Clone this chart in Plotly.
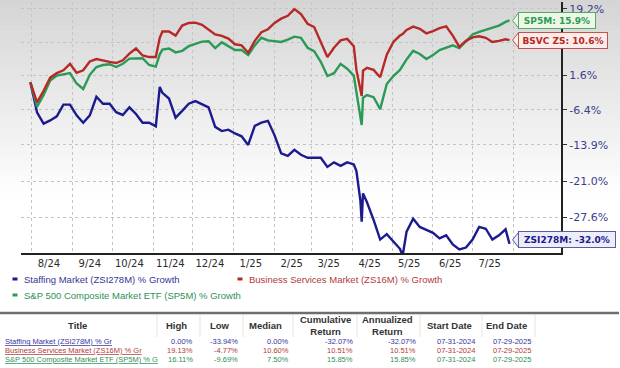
import math
import pandas as pd
import plotly.graph_objects as go

# ---------------- data ----------------
dates = ["2024-07-31","2024-08-05","2024-08-10","2024-08-15","2024-08-20","2024-08-25","2024-08-30",
"2024-09-04","2024-09-09","2024-09-14","2024-09-19","2024-09-24","2024-09-29",
"2024-10-04","2024-10-09","2024-10-14","2024-10-19","2024-10-24","2024-10-29",
"2024-11-03","2024-11-06","2024-11-08","2024-11-13","2024-11-18","2024-11-23","2024-11-28",
"2024-12-03","2024-12-08","2024-12-13","2024-12-18","2024-12-23","2024-12-28",
"2025-01-02","2025-01-07","2025-01-12","2025-01-17","2025-01-22","2025-01-27",
"2025-02-01","2025-02-06","2025-02-11","2025-02-16","2025-02-21","2025-02-26",
"2025-03-03","2025-03-08","2025-03-13","2025-03-18","2025-03-23","2025-03-28",
"2025-04-02","2025-04-04","2025-04-07","2025-04-08","2025-04-09","2025-04-12","2025-04-17","2025-04-22","2025-04-27",
"2025-05-02","2025-05-07","2025-05-09","2025-05-12","2025-05-17","2025-05-22","2025-05-27",
"2025-06-01","2025-06-06","2025-06-11","2025-06-16","2025-06-21","2025-06-26",
"2025-07-01","2025-07-06","2025-07-11","2025-07-16","2025-07-21","2025-07-26","2025-07-29"]

staffing_pct = [0.0, -6.9, -9.4, -8.7, -7.8, -5.2, -5.2,
    -7.6, -9.2, -7.6, -3.4, -5.0, -5.0,
    -6.9, -7.5, -5.8, -7.3, -9.2, -9.2,
    -10.0, -1.1, -2.5, -3.8, -8.1, -6.6, -5.0,
    -4.4, -5.1, -5.8, -10.1, -11.0, -10.7,
    -11.5, -12.1, -13.9, -9.9, -9.2, -8.8,
    -11.9, -15.6, -16.1, -14.9, -15.9, -16.5,
    -16.5, -16.5, -18.3, -17.4, -18.1, -17.4,
    -17.8, -19.1, -24.6, -28.3, -23.3, -24.9, -28.0, -31.3, -30.4,
    -31.6, -32.8, -33.9, -30.0, -27.8, -29.2, -29.7,
    -30.2, -31.1, -30.6, -32.1, -32.9, -32.6,
    -31.3, -29.2, -29.5, -31.3, -30.6, -29.6, -32.0]

business_pct = [0.0, -4.7, -2.0, 1.1, 2.2, 2.9, 4.5,
    2.3, 2.9, 5.1, 5.7, 5.3, 5.0,
    4.7, 5.4, 7.1, 8.4, 6.6, 6.2,
    6.2, 11.2, 12.9, 12.9, 11.8, 14.5, 15.2,
    15.3, 14.7, 13.5, 12.1, 11.7, 11.0,
    9.5, 9.2, 7.3, 10.4, 12.7, 13.5,
    15.2, 16.4, 17.2, 19.1, 17.7, 15.0,
    14.1, 10.2, 6.2, 8.6, 10.5, 10.9,
    9.0, 3.0, -2.0, -3.2, 2.8, 3.5, 3.0, 1.2, 6.8,
    10.1, 11.8, 12.2, 13.3, 14.2, 13.6, 12.4,
    13.0, 13.8, 14.3, 11.8, 8.8, 10.4,
    11.3, 11.6, 11.2, 10.1, 10.4, 10.8, 10.6]

sp500_pct = [0.0, -5.7, -3.0, 0.4, 1.6, 1.9, 2.2,
    -0.3, -1.6, 1.8, 3.7, 4.2, 4.4,
    3.7, 4.5, 5.8, 5.9, 5.9, 4.2,
    3.8, 6.9, 8.1, 8.4, 7.4, 7.8, 9.0,
    9.6, 10.2, 10.3, 8.5, 10.0, 9.0,
    8.0, 8.0, 6.7, 9.2, 11.2, 10.5,
    10.3, 10.1, 10.7, 11.5, 11.2, 8.6,
    7.7, 5.0, 1.5, 2.2, 4.5, 3.3,
    1.6, -2.0, -8.0, -9.7, -3.6, -3.0, -3.5, -6.2, -0.4,
    1.5, 3.0, 4.0, 5.6, 7.8, 7.0, 5.7,
    6.7, 8.0, 8.6, 9.2, 8.5, 10.4,
    12.1, 12.8, 13.3, 13.9, 14.5, 15.5, 15.9]

series_names = ["Staffing Market (ZSI278M) % Growth",
                "Business Services Market (ZS16M) % Growth",
                "S&P 500 Composite Market ETF (SP5M) % Growth"]
end_tags = ["ZSI278M", "BSVC ZS", "SP5M"]

x_tick_labels = ["8/24", "9/24", "10/24", "11/24", "12/24", "1/25",
                 "2/25", "3/25", "4/25", "5/25", "6/25", "7/25"]
y_tick_pct = [19.2, 10.0, 1.6, -6.4, -13.9, -21.0, -27.6]
y_tick_hidden = [False, True, False, False, False, False, False]

table_titles = ["Staffing Market (ZSI278M) % Gr",
                "Business Services Market (ZS16M) % Gr",
                "S&P 500 Composite Market ETF (SP5M) % G"]
table_high = ["0.00%", "19.13%", "16.11%"]
table_low = ["-33.94%", "-4.77%", "-9.69%"]
table_median = ["0.00%", "10.60%", "7.50%"]
table_cum = ["-32.07%", "10.51%", "15.85%"]
table_ann = ["-32.07%", "10.51%", "15.85%"]
table_start = ["07-31-2024", "07-31-2024", "07-31-2024"]
table_end = ["07-29-2025", "07-29-2025", "07-29-2025"]
table_headers = ["Title", "High", "Low", "Median", "Cumulative<br>Return",
                 "Annualized<br>Return", "Start Date", "End Date"]

# ---------------- styling ----------------
W, H = 620, 368
PL, PR, PT, PB = 21, 561, 2, 253
line_colors = ["#1b1b8f", "#b52a26", "#2a9a57"]
text_colors = ["#35359a", "#b23a3a", "#2f8f58"]
box_fill = ["#ededf8", "#fbecea", "#edf7e6"]
box_line = ["#5c5ca6", "#c2524e", "#55a86a"]
box_width = [92, 84, 72]

def xp(px):
    return (px - PL) / (PR - PL)

def yp(py):
    return (PB - py) / (PB - PT)

fig = go.Figure()

all_series = [staffing_pct, business_pct, sp500_pct]
# growth expressed as index level (1 + r) on a log axis
for idx in [0, 2, 1]:
    vals = all_series[idx]
    fig.add_trace(go.Scatter(
        x=dates, y=[1 + v / 100 for v in vals], mode="lines",
        name=series_names[idx], showlegend=False,
        line=dict(color=line_colors[idx], width=2.4),
        customdata=vals, hovertemplate="%{x}<br>%{customdata:.1f}%<extra></extra>"))

shapes = []
annotations = []

# background gradient (top light gray to white)
nb = 36
for i in range(nb):
    y0 = -2 + i * 200 / nb
    y1 = -2 + (i + 1) * 200 / nb
    t = (i + 0.5) / nb
    g = int(round(212 + (255 - 212) * t))
    shapes.append(dict(type="rect", xref="paper", yref="paper", layer="below",
                       x0=xp(0), x1=xp(W), y0=yp(y1 + 0.5), y1=yp(y0),
                       fillcolor=f"rgb({g},{g},{g})", line=dict(width=0)))

# end labels
for idx in range(3):
    v = all_series[idx][-1]
    txt = f"{end_tags[idx]}: {v:.1f}%"
    yshift = 4 if idx == 0 else 0
    shapes.append(dict(type="path", xref="x", yref="y", xsizemode="pixel", ysizemode="pixel",
                       xanchor=dates[-1], yanchor=1 + v / 100,
                       path=f"M 3 {yshift} L 9 {7.5 + yshift} L 9 {-7.5 + yshift} Z",
                       fillcolor=box_fill[idx], line=dict(color=box_line[idx], width=1)))
    annotations.append(dict(x=dates[-1], y=math.log10(1 + v / 100), xref="x", yref="y",
                            text=f"<b>{txt}</b>", showarrow=False, xanchor="left", yanchor="middle",
                            xshift=8, yshift=yshift, width=box_width[idx], height=11, align="center",
                            bgcolor=box_fill[idx], bordercolor=box_line[idx], borderwidth=1, borderpad=2,
                            font=dict(family="DejaVu Sans", size=9, color=line_colors[idx])))

# legend (text + small dash markers)
legend_pos = [(15, 279), (240, 279), (15, 295)]
for idx in range(3):
    lx, ly = legend_pos[idx]
    shapes.append(dict(type="rect", xref="paper", yref="paper",
                       x0=xp(lx - 2.5), x1=xp(lx + 2.5), y0=yp(ly + 1.5), y1=yp(ly - 1.5),
                       fillcolor=line_colors[idx], line=dict(width=0)))
    annotations.append(dict(x=xp(lx + 7), y=yp(ly), xref="paper", yref="paper",
                            text=series_names[idx], showarrow=False, xanchor="left", yanchor="middle",
                            font=dict(family="Liberation Sans", size=9.5, color=text_colors[idx])))

# table
shapes.append(dict(type="line", xref="paper", yref="paper", x0=xp(0), x1=xp(619),
                   y0=yp(313), y1=yp(313), line=dict(color="#6e6e6e", width=2.5)))
for sx in [157, 200, 243, 293, 357, 420, 482, 535]:
    shapes.append(dict(type="line", xref="paper", yref="paper", x0=xp(sx), x1=xp(sx),
                       y0=yp(315), y1=yp(337), line=dict(color="#e4e4e4", width=1)))
header_x = [77, 177, 220, 265, 325, 387, 449, 506]
for hx, htxt in zip(header_x, table_headers):
    annotations.append(dict(x=xp(hx), y=yp(325.5), xref="paper", yref="paper",
                            text=f"<b>{htxt}</b>", showarrow=False, xanchor="center", yanchor="middle",
                            font=dict(family="Liberation Sans", size=9.5, color="#333333")))
row_y = [341, 350, 359]
cols_right = [(table_high, 195), (table_low, 240), (table_median, 291),
              (table_cum, 355), (table_ann, 418)]
for r in range(3):
    ry = row_y[r]
    fnt = dict(family="Liberation Sans", size=7.5, color=text_colors[r])
    annotations.append(dict(x=xp(3), y=yp(ry), xref="paper", yref="paper",
                            text=f"<u>{table_titles[r]}</u>", showarrow=False,
                            xanchor="left", yanchor="middle", font=fnt))
    for col, rx in cols_right:
        annotations.append(dict(x=xp(rx), y=yp(ry), xref="paper", yref="paper", text=col[r],
                                showarrow=False, xanchor="right", yanchor="middle", font=fnt))
    for col, cx in [(table_start, 455.5), (table_end, 512)]:
        annotations.append(dict(x=xp(cx), y=yp(ry), xref="paper", yref="paper", text=col[r],
                                showarrow=False, xanchor="center", yanchor="middle", font=fnt))

month_starts = pd.date_range("2024-08-01", periods=13, freq="MS")
label_pos = month_starts[:12] + pd.Timedelta(days=13)

y_tickvals = [1 + v / 100 for v in y_tick_pct]
y_ticktext = ["" if hid else f"{v:.1f}%" for v, hid in zip(y_tick_pct, y_tick_hidden)]

fig.update_layout(
    width=W, height=H,
    margin=dict(l=PL, r=W - PR, t=PT, b=H - PB, autoexpand=False),
    paper_bgcolor="white", plot_bgcolor="rgba(0,0,0,0)",
    showlegend=False,
    font=dict(family="DejaVu Sans"),
    shapes=shapes, annotations=annotations,
    xaxis=dict(type="date", range=["2024-07-23 21:00", "2025-09-06"], automargin=False,
               tickmode="array", tickvals=list(label_pos), ticktext=x_tick_labels,
               showgrid=False, ticks="", zeroline=False,
               tickfont=dict(family="DejaVu Sans", size=10, color="#2b2b2b"),
               showline=True, linecolor="#222222", linewidth=2,
               minor=dict(tickmode="array", tickvals=list(month_starts), showgrid=True,
                          gridcolor="#c4c4c4", griddash="dot", gridwidth=1, ticks="")),
    yaxis=dict(type="log", side="right", automargin=False,
               range=[math.log10(0.6653), math.log10(1.2112)],
               tickmode="array", tickvals=y_tickvals, ticktext=y_ticktext,
               showgrid=True, gridcolor="#c4c4c4", griddash="dot", gridwidth=1,
               ticks="outside", ticklen=4, tickcolor="#333333", zeroline=False,
               tickfont=dict(family="DejaVu Sans", size=11, color="#3d3d8f"),
               showline=True, linecolor="#222222", linewidth=2),
)

# remove the default page margin so the 620x368 figure fills the window exactly
fig.write_html("out.html", config={"displayModeBar": False},
               post_script="document.body.style.margin='0';document.body.style.overflow='hidden';")
